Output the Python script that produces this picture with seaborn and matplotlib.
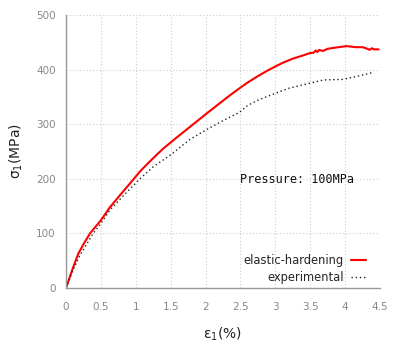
import matplotlib
matplotlib.use("Agg")
import matplotlib.pyplot as plt
import seaborn as sns
import pandas as pd

# elastic-hardening (model) curve
model_strain = [0.0, 0.1, 0.177, 0.25, 0.344, 0.5, 0.63, 0.8, 0.974, 1.05, 1.156, 1.3, 1.4, 1.6,
                1.776, 2.0, 2.2, 2.35, 2.49, 2.6, 2.75, 2.9, 2.99, 3.1, 3.25, 3.4, 3.49,
                3.55, 3.58, 3.6, 3.63, 3.68, 3.75, 3.85, 4.02, 4.15, 4.25, 4.32, 4.35, 4.38,
                4.42, 4.48]
model_stress = [0.0, 37, 63, 80, 100, 124, 148, 174, 200, 212, 226, 244, 256, 277,
                295, 318, 338, 353, 366, 376, 388, 399, 405, 412, 420, 426, 430,
                431, 435, 432, 436, 434, 438, 440, 443, 441, 441, 438, 436, 439,
                437, 437]

# experimental curve
exp_strain = [0.0, 0.1, 0.2, 0.39, 0.5, 0.63, 0.8, 1.06, 1.25, 1.49, 1.776, 2.0, 2.2, 2.35, 2.49,
              2.6, 2.75, 2.99, 3.2, 3.49, 3.69, 3.97, 4.15, 4.38]
exp_stress = [0.0, 33, 60, 100, 118, 143, 166, 200, 222, 243, 272, 289, 303, 313, 322,
              334, 344, 356, 366, 375, 381, 382, 387, 394]

df_model = pd.DataFrame({"strain": model_strain, "stress": model_stress})
df_exp = pd.DataFrame({"strain": exp_strain, "stress": exp_stress})

sns.set_style("white")
plt.rcParams['font.family'] = ['DejaVu Sans']

fig = plt.figure(figsize=(4.0, 3.56), dpi=100)
ax = fig.add_axes([0.165, 0.191, 0.785, 0.767])

sns.lineplot(data=df_model, x="strain", y="stress", ax=ax, color="#ff0000", lw=1.5,
             label="elastic-hardening", sort=False)
sns.lineplot(data=df_exp, x="strain", y="stress", ax=ax, color="#222222", lw=1.0,
             linestyle=(0, (1, 2)), label="experimental", sort=False)

ax.set_xlim(0, 4.5)
ax.set_ylim(0, 500)
ax.set_xticks([0, 0.5, 1, 1.5, 2, 2.5, 3, 3.5, 4, 4.5])
ax.set_xticklabels(["0", "0.5", "1", "1.5", "2", "2.5", "3", "3.5", "4", "4.5"])
ax.set_yticks([0, 100, 200, 300, 400, 500])
ax.grid(True, color="#cccccc", linestyle=(0, (1, 2)), lw=0.8)
for s in ["top", "right"]:
    ax.spines[s].set_visible(False)
for s in ["left", "bottom"]:
    ax.spines[s].set_color("#999999")
    ax.spines[s].set_linewidth(1.0)
ax.tick_params(axis="both", colors="#999999", labelcolor="#888888", labelsize=7.5,
               length=4, width=1, direction="out")
ax.tick_params(axis="x", pad=6)

ax.set_xlabel(r"ε$_1$(%)", fontsize=10, color="#222222", labelpad=10)
ax.set_ylabel(r"σ$_1$(MPa)", fontsize=10, color="#222222", labelpad=8)

ax.text(2.49, 199, "Pressure: 100MPa", family="DejaVu Sans Mono", fontsize=8.45,
        color="#111111", va="center", ha="left")

leg = ax.legend(loc="lower right", frameon=False, markerfirst=False, fontsize=8.3,
                handlelength=1.3, handletextpad=0.6, labelspacing=0.35,
                borderpad=0, borderaxespad=0,
                bbox_to_anchor=(0.955, 0.015))
for t in leg.get_texts():
    t.set_ha("right")

fig.savefig("out.png", dpi=100)
